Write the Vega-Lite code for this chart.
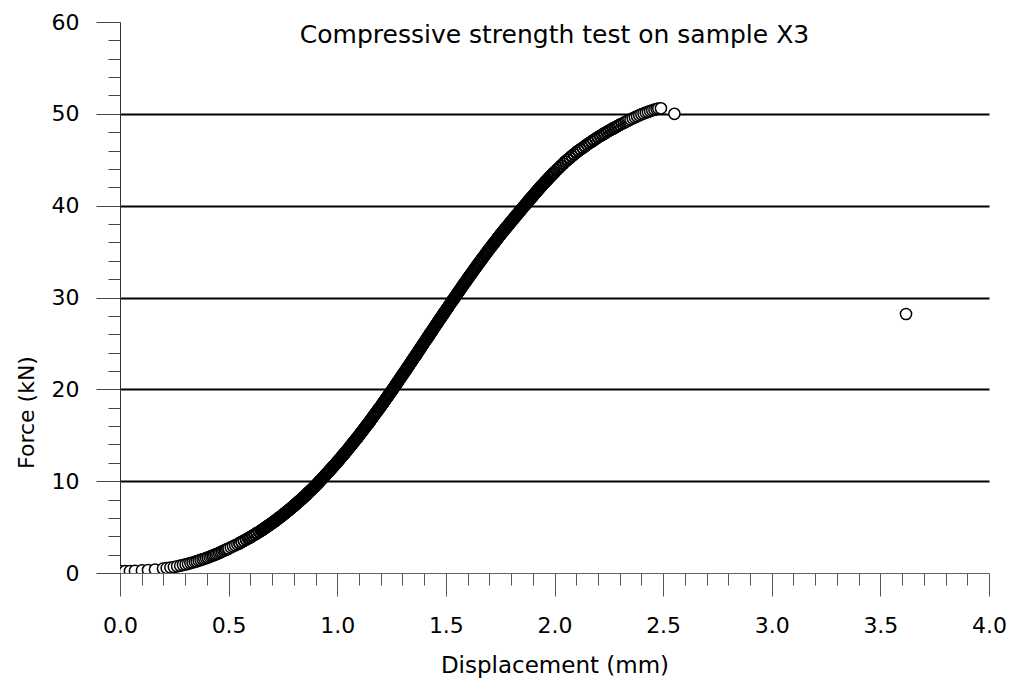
{
  "$schema": "https://vega.github.io/schema/vega-lite/v6.json",
  "width": 869,
  "height": 551,
  "autosize": {"type": "none"},
  "padding": {"left": 120, "top": 22, "right": 20, "bottom": 107},
  "background": "white",
  "config": {"view": {"stroke": null}},
  "title": {
    "text": "Compressive strength test on sample X3",
    "anchor": "middle",
    "font": "DejaVu Sans",
    "fontSize": 25,
    "fontWeight": "normal",
    "color": "#000000",
    "baseline": "alphabetic",
    "offset": -57
  },
  "data": {
    "values": [
      {"d":0,"f":0.2},{"d":0.023,"f":0.2},{"d":0.046,"f":0.22},{"d":0.069,"f":0.24},{"d":0.101,"f":0.28},{"d":0.129,"f":0.32},{"d":0.161,"f":0.37},{"d":0.198,"f":0.47},
      {"d":0.215,"f":0.53},{"d":0.232,"f":0.6},{"d":0.248,"f":0.65},{"d":0.263,"f":0.73},{"d":0.277,"f":0.8},{"d":0.29,"f":0.87},{"d":0.302,"f":0.93},{"d":0.313,"f":1.01},
      {"d":0.324,"f":1.08},{"d":0.334,"f":1.14},{"d":0.344,"f":1.21},{"d":0.353,"f":1.27},{"d":0.362,"f":1.35},{"d":0.371,"f":1.42},{"d":0.38,"f":1.49},{"d":0.388,"f":1.55},
      {"d":0.396,"f":1.62},{"d":0.404,"f":1.69},{"d":0.412,"f":1.76},{"d":0.42,"f":1.84},{"d":0.427,"f":1.9},{"d":0.434,"f":1.97},{"d":0.441,"f":2.04},{"d":0.448,"f":2.1},
      {"d":0.455,"f":2.18},{"d":0.462,"f":2.25},{"d":0.469,"f":2.33},{"d":0.476,"f":2.41},{"d":0.482,"f":2.47},{"d":0.488,"f":2.54},{"d":0.494,"f":2.6},{"d":0.5,"f":2.67},
      {"d":0.51,"f":2.79},{"d":0.52,"f":2.9},{"d":0.53,"f":3.02},{"d":0.54,"f":3.13},{"d":0.55,"f":3.25},{"d":0.56,"f":3.38},{"d":0.57,"f":3.51},{"d":0.58,"f":3.64},
      {"d":0.59,"f":3.77},{"d":0.6,"f":3.9},{"d":0.61,"f":4.05},{"d":0.62,"f":4.19},{"d":0.63,"f":4.34},{"d":0.64,"f":4.48},{"d":0.65,"f":4.63},
      {"d":0.655,"f":4.71},{"d":0.66,"f":4.79},{"d":0.665,"f":4.87},{"d":0.67,"f":4.95},{"d":0.675,"f":5.03},{"d":0.68,"f":5.11},{"d":0.685,"f":5.19},{"d":0.69,"f":5.27},{"d":0.695,"f":5.35},{"d":0.7,"f":5.43},
      {"d":0.705,"f":5.52},{"d":0.71,"f":5.61},{"d":0.715,"f":5.7},{"d":0.72,"f":5.79},{"d":0.725,"f":5.88},{"d":0.73,"f":5.97},{"d":0.735,"f":6.06},{"d":0.74,"f":6.15},{"d":0.745,"f":6.24},{"d":0.75,"f":6.33},
      {"d":0.755,"f":6.43},{"d":0.76,"f":6.52},{"d":0.765,"f":6.62},{"d":0.77,"f":6.72},{"d":0.775,"f":6.82},{"d":0.78,"f":6.91},{"d":0.785,"f":7.01},{"d":0.79,"f":7.11},{"d":0.795,"f":7.2},{"d":0.8,"f":7.3},
      {"d":0.805,"f":7.41},{"d":0.81,"f":7.51},{"d":0.815,"f":7.62},{"d":0.82,"f":7.72},{"d":0.825,"f":7.83},{"d":0.83,"f":7.93},{"d":0.835,"f":8.04},{"d":0.84,"f":8.14},{"d":0.845,"f":8.25},{"d":0.85,"f":8.35},
      {"d":0.855,"f":8.47},{"d":0.86,"f":8.58},{"d":0.865,"f":8.7},{"d":0.87,"f":8.81},{"d":0.875,"f":8.93},{"d":0.88,"f":9.04},{"d":0.885,"f":9.16},{"d":0.89,"f":9.27},{"d":0.895,"f":9.39},{"d":0.9,"f":9.5},
      {"d":0.905,"f":9.63},{"d":0.91,"f":9.75},{"d":0.915,"f":9.88},{"d":0.92,"f":10.01},{"d":0.925,"f":10.14},{"d":0.93,"f":10.26},{"d":0.935,"f":10.39},{"d":0.94,"f":10.52},{"d":0.945,"f":10.64},{"d":0.95,"f":10.77},
      {"d":0.955,"f":10.9},{"d":0.96,"f":11.03},{"d":0.965,"f":11.17},{"d":0.97,"f":11.3},{"d":0.975,"f":11.43},{"d":0.98,"f":11.56},{"d":0.985,"f":11.69},{"d":0.99,"f":11.83},{"d":0.995,"f":11.96},{"d":1,"f":12.09},
      {"d":1.005,"f":12.23},{"d":1.01,"f":12.37},{"d":1.015,"f":12.51},{"d":1.02,"f":12.65},{"d":1.025,"f":12.79},{"d":1.03,"f":12.93},{"d":1.035,"f":13.07},{"d":1.04,"f":13.21},{"d":1.045,"f":13.35},{"d":1.05,"f":13.49},
      {"d":1.055,"f":13.64},{"d":1.06,"f":13.79},{"d":1.065,"f":13.93},{"d":1.07,"f":14.08},{"d":1.075,"f":14.23},{"d":1.08,"f":14.38},{"d":1.085,"f":14.53},{"d":1.09,"f":14.67},{"d":1.095,"f":14.82},{"d":1.1,"f":14.97},
      {"d":1.105,"f":15.13},{"d":1.11,"f":15.28},{"d":1.115,"f":15.44},{"d":1.12,"f":15.59},{"d":1.125,"f":15.75},{"d":1.13,"f":15.9},{"d":1.135,"f":16.06},{"d":1.14,"f":16.21},{"d":1.145,"f":16.37},{"d":1.15,"f":16.52},
      {"d":1.155,"f":16.68},{"d":1.16,"f":16.84},{"d":1.165,"f":17.01},{"d":1.17,"f":17.17},{"d":1.175,"f":17.33},{"d":1.18,"f":17.49},{"d":1.185,"f":17.65},{"d":1.19,"f":17.82},{"d":1.195,"f":17.98},{"d":1.2,"f":18.14},
      {"d":1.205,"f":18.31},{"d":1.21,"f":18.48},{"d":1.215,"f":18.64},{"d":1.22,"f":18.81},{"d":1.225,"f":18.98},{"d":1.23,"f":19.15},{"d":1.235,"f":19.32},{"d":1.24,"f":19.48},{"d":1.245,"f":19.65},{"d":1.25,"f":19.82},
      {"d":1.255,"f":19.99},{"d":1.26,"f":20.17},{"d":1.265,"f":20.34},{"d":1.27,"f":20.51},{"d":1.275,"f":20.69},{"d":1.28,"f":20.86},{"d":1.285,"f":21.03},{"d":1.29,"f":21.2},{"d":1.295,"f":21.38},{"d":1.3,"f":21.55},
      {"d":1.305,"f":21.73},{"d":1.31,"f":21.9},{"d":1.315,"f":22.08},{"d":1.32,"f":22.25},{"d":1.325,"f":22.43},{"d":1.33,"f":22.6},{"d":1.335,"f":22.78},{"d":1.34,"f":22.95},{"d":1.345,"f":23.13},{"d":1.35,"f":23.3},
      {"d":1.355,"f":23.48},{"d":1.36,"f":23.66},{"d":1.365,"f":23.83},{"d":1.37,"f":24.01},{"d":1.375,"f":24.19},{"d":1.38,"f":24.37},{"d":1.385,"f":24.55},{"d":1.39,"f":24.72},{"d":1.395,"f":24.9},{"d":1.4,"f":25.08},
      {"d":1.405,"f":25.26},{"d":1.41,"f":25.43},{"d":1.415,"f":25.61},{"d":1.42,"f":25.79},{"d":1.425,"f":25.97},{"d":1.43,"f":26.14},{"d":1.435,"f":26.32},{"d":1.44,"f":26.5},{"d":1.445,"f":26.67},{"d":1.45,"f":26.85},
      {"d":1.455,"f":27.03},{"d":1.46,"f":27.2},{"d":1.465,"f":27.38},{"d":1.47,"f":27.55},{"d":1.475,"f":27.73},{"d":1.48,"f":27.9},{"d":1.485,"f":28.08},{"d":1.49,"f":28.25},{"d":1.495,"f":28.43},{"d":1.5,"f":28.6},
      {"d":1.505,"f":28.77},{"d":1.51,"f":28.95},{"d":1.515,"f":29.12},{"d":1.52,"f":29.29},{"d":1.525,"f":29.47},{"d":1.53,"f":29.64},{"d":1.535,"f":29.81},{"d":1.54,"f":29.98},{"d":1.545,"f":30.16},{"d":1.55,"f":30.33},
      {"d":1.555,"f":30.5},{"d":1.56,"f":30.67},{"d":1.565,"f":30.84},{"d":1.57,"f":31.01},{"d":1.575,"f":31.18},{"d":1.58,"f":31.35},{"d":1.585,"f":31.52},{"d":1.59,"f":31.69},{"d":1.595,"f":31.86},{"d":1.6,"f":32.03},
      {"d":1.605,"f":32.2},{"d":1.61,"f":32.36},{"d":1.615,"f":32.53},{"d":1.62,"f":32.69},{"d":1.625,"f":32.86},{"d":1.63,"f":33.02},{"d":1.635,"f":33.19},{"d":1.64,"f":33.35},{"d":1.645,"f":33.52},{"d":1.65,"f":33.68},
      {"d":1.655,"f":33.84},{"d":1.66,"f":34},{"d":1.665,"f":34.16},{"d":1.67,"f":34.32},{"d":1.675,"f":34.48},{"d":1.68,"f":34.64},{"d":1.685,"f":34.8},{"d":1.69,"f":34.96},{"d":1.695,"f":35.12},{"d":1.7,"f":35.28},
      {"d":1.705,"f":35.43},{"d":1.71,"f":35.58},{"d":1.715,"f":35.74},{"d":1.72,"f":35.89},{"d":1.725,"f":36.04},{"d":1.73,"f":36.19},{"d":1.735,"f":36.34},{"d":1.74,"f":36.5},{"d":1.745,"f":36.65},{"d":1.75,"f":36.8},
      {"d":1.755,"f":36.95},{"d":1.76,"f":37.09},{"d":1.765,"f":37.24},{"d":1.77,"f":37.38},{"d":1.775,"f":37.53},{"d":1.78,"f":37.67},{"d":1.785,"f":37.82},{"d":1.79,"f":37.96},{"d":1.795,"f":38.11},{"d":1.8,"f":38.25},
      {"d":1.805,"f":38.39},{"d":1.81,"f":38.53},{"d":1.815,"f":38.68},{"d":1.82,"f":38.82},{"d":1.825,"f":38.96},{"d":1.83,"f":39.1},{"d":1.835,"f":39.24},{"d":1.84,"f":39.39},{"d":1.845,"f":39.53},{"d":1.85,"f":39.67},
      {"d":1.855,"f":39.81},{"d":1.86,"f":39.95},{"d":1.865,"f":40.08},{"d":1.87,"f":40.22},{"d":1.875,"f":40.36},{"d":1.88,"f":40.5},{"d":1.885,"f":40.64},{"d":1.89,"f":40.77},{"d":1.895,"f":40.91},{"d":1.9,"f":41.05},
      {"d":1.905,"f":41.19},{"d":1.91,"f":41.32},{"d":1.915,"f":41.46},{"d":1.92,"f":41.59},{"d":1.925,"f":41.73},{"d":1.93,"f":41.86},{"d":1.935,"f":42},{"d":1.94,"f":42.13},{"d":1.945,"f":42.27},{"d":1.95,"f":42.4},
      {"d":1.955,"f":42.53},{"d":1.96,"f":42.65},{"d":1.965,"f":42.78},{"d":1.97,"f":42.9},{"d":1.975,"f":43.03},{"d":1.98,"f":43.15},{"d":1.985,"f":43.28},{"d":1.99,"f":43.4},{"d":1.995,"f":43.53},{"d":2,"f":43.65},
      {"d":2.01,"f":43.88},{"d":2.02,"f":44.11},{"d":2.03,"f":44.34},{"d":2.04,"f":44.57},{"d":2.05,"f":44.8},
      {"d":2.06,"f":45},{"d":2.07,"f":45.2},{"d":2.08,"f":45.4},{"d":2.09,"f":45.6},{"d":2.1,"f":45.8},
      {"d":2.11,"f":45.97},{"d":2.12,"f":46.14},{"d":2.13,"f":46.31},{"d":2.14,"f":46.48},{"d":2.15,"f":46.65},
      {"d":2.16,"f":46.81},{"d":2.17,"f":46.97},{"d":2.18,"f":47.13},{"d":2.19,"f":47.29},{"d":2.2,"f":47.45},
      {"d":2.21,"f":47.59},{"d":2.22,"f":47.73},{"d":2.23,"f":47.87},{"d":2.24,"f":48.01},{"d":2.25,"f":48.15},
      {"d":2.26,"f":48.28},{"d":2.27,"f":48.41},{"d":2.28,"f":48.54},{"d":2.29,"f":48.67},{"d":2.3,"f":48.8},
      {"d":2.31,"f":48.92},{"d":2.32,"f":49.04},{"d":2.33,"f":49.16},{"d":2.34,"f":49.28},{"d":2.35,"f":49.4},
      {"d":2.36,"f":49.51},{"d":2.37,"f":49.62},{"d":2.38,"f":49.73},{"d":2.39,"f":49.84},{"d":2.4,"f":49.95},
      {"d":2.41,"f":50.04},{"d":2.42,"f":50.13},{"d":2.43,"f":50.21},{"d":2.44,"f":50.3},{"d":2.45,"f":50.38},
      {"d":2.46,"f":50.45},{"d":2.47,"f":50.52},{"d":2.478,"f":50.58},{"d":2.49,"f":50.6},{"d":2.552,"f":50.0},
      {"d":3.618,"f":28.2}
    ]
  },
  "encoding": {
    "x": {
      "field": "d",
      "type": "quantitative",
      "scale": {"domain": [0, 4], "nice": false, "zero": false},
      "axis": {
        "title": "Displacement (mm)",
        "values": [0,0.1,0.2,0.3,0.4,0.5,0.6,0.7,0.8,0.9,1,1.1,1.2,1.3,1.4,1.5,1.6,1.7,1.8,1.9,2,2.1,2.2,2.3,2.4,2.5,2.6,2.7,2.8,2.9,3,3.1,3.2,3.3,3.4,3.5,3.6,3.7,3.8,3.9,4],
        "labelExpr": "abs(datum.value*2 - round(datum.value*2)) < 0.001 ? format(datum.value, '.1f') : ''",
        "tickSize": {"condition": {"test": "abs(datum.value*2 - round(datum.value*2)) < 0.001", "value": 23}, "value": 12},
        "grid": false,
        "domainColor": "#666666",
        "tickColor": "#555555",
        "labelFont": "DejaVu Sans",
        "labelFontSize": 22,
        "labelColor": "#000000",
        "labelPadding": 19,
        "labelFlush": false,
        "labelOverlap": false,
        "titleFont": "DejaVu Sans",
        "titleFontSize": 23,
        "titleFontWeight": "normal",
        "titleColor": "#000000",
        "titleBaseline": "alphabetic",
        "titleY": 99
      }
    },
    "y": {
      "field": "f",
      "type": "quantitative",
      "scale": {"domain": [0, 60], "nice": false},
      "axis": {
        "title": "Force (kN)",
        "values": [0,2,4,6,8,10,12,14,16,18,20,22,24,26,28,30,32,34,36,38,40,42,44,46,48,50,52,54,56,58,60],
        "labelExpr": "datum.value % 10 === 0 ? datum.label : ''",
        "tickSize": {"condition": {"test": "datum.value % 10 === 0", "value": 24}, "value": 12},
        "grid": true,
        "gridColor": "#000000",
        "gridWidth": 2,
        "gridOpacity": {"condition": {"test": "datum.value > 0 && datum.value < 60 && datum.value % 10 === 0", "value": 1}, "value": 0},
        "domainColor": "#333333",
        "tickColor": "#444444",
        "labelFont": "DejaVu Sans",
        "labelFontSize": 22,
        "labelColor": "#000000",
        "labelPadding": 17,
        "labelOverlap": false,
        "labelFlush": false,
        "titleFont": "DejaVu Sans",
        "titleFontSize": 22,
        "titleFontWeight": "normal",
        "titleColor": "#000000",
        "titleAngle": 270,
        "titleAlign": "center",
        "titleBaseline": "alphabetic",
        "titleX": -87,
        "titleY": 390
      }
    }
  },
  "layer": [
    {
      "mark": {
        "type": "circle",
        "fill": "white",
        "stroke": "black",
        "strokeWidth": 1.5,
        "size": 125,
        "opacity": 1,
        "fillOpacity": 1,
        "clip": true
      }
    },
    {
      "transform": [{"filter": "datum.d >= 0.55 && datum.d <= 2.3"}],
      "mark": {
        "type": "point",
        "shape": "circle",
        "filled": false,
        "fill": null,
        "stroke": "black",
        "strokeWidth": 1.5,
        "size": 125,
        "opacity": 1,
        "clip": true
      }
    }
  ]
}
